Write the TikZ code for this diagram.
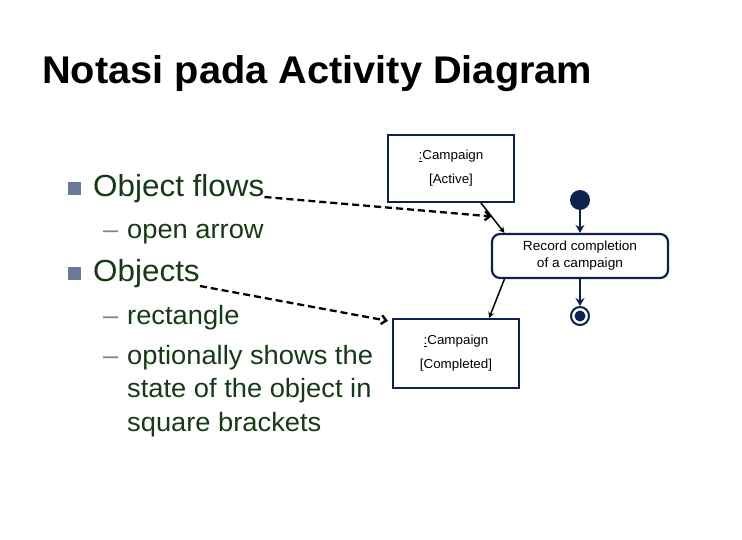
\documentclass[tikz,border=0pt]{standalone}
\usepackage{fontspec}
\setmainfont{Liberation Sans}[FakeStretch=1.03]
\usepackage{xcolor}
\usetikzlibrary{arrows.meta,calc}
\definecolor{navy}{HTML}{0C2150}
\definecolor{textgreen}{HTML}{163A16}
\definecolor{bulletgray}{HTML}{697A96}
\definecolor{dashgray}{HTML}{7A8494}

\begin{document}
\begin{tikzpicture}[
    x=1pt, y=-1pt,
    title/.style={anchor=base west, inner sep=0pt, font=\fontsize{38.6}{44}\bfseries\selectfont},
    point/.style={anchor=base west, inner sep=0pt, text=textgreen, font=\fontsize{30.5}{36}\selectfont},
    subpoint/.style={anchor=base west, inner sep=0pt, text=textgreen, font=\fontsize{26.5}{32}\selectfont},
    subdash/.style={anchor=base west, inner sep=0pt, text=dashgray, font=\fontsize{26.5}{32}\selectfont},
    bulletbox/.style={fill=bulletgray, minimum size=13.5pt, inner sep=0pt},
    objbox/.style={draw=navy, line width=2pt, minimum width=126pt, align=center,
        font=\fontsize{13}{24}\selectfont},
    actbox/.style={draw=navy, line width=2.2pt, rounded corners=8pt, minimum width=176pt,
        minimum height=44pt, align=center, font=\fontsize{13.3}{17}\selectfont},
    objflow/.style={dash pattern=on 7pt off 4pt, line width=2.3pt,
        -{Straight Barb[length=5pt,width=9pt]}},
    flowline/.style={line width=1.5pt, -{Stealth[length=6pt,width=6pt]}},
    ctrlflow/.style={draw=navy, line width=2.8pt, -{Stealth[length=8pt,width=9pt]}}
]
\useasboundingbox (0,0) rectangle (742,540);

\node (title) [title] at (42,84) {Notasi pada Activity Diagram};

\node (b1) [bulletbox] at (74.5,188.5) {};
\node (flows) [point] at (93,197) {Object flows};
\node (d1) [subdash] at (103,239) {–};
\node (open) [subpoint] at (127,239) {open arrow};
\node (b2) [bulletbox] at (74.5,273.5) {};
\node (objs) [point] at (93,282) {Objects};
\node (d2) [subdash] at (103,324) {–};
\node (rect) [subpoint] at (127,324) {rectangle};
\node (d3) [subdash] at (103,364) {–};
\node (opt1) [subpoint] at (127,364) {optionally shows the};
\node (opt2) [subpoint] at (127,397) {state of the object in};
\node (opt3) [subpoint] at (127,431) {square brackets};

\node (active) [objbox, minimum height=67pt] at (451,168.5) {\underline{:}Campaign\\{}[Active]};
\node (done) [objbox, minimum height=69pt] at (456,353.5) {\underline{:}Campaign\\{}[Completed]};
\node (act) [actbox] at (580,256) {Record completion\\of a campaign};
\node (start) [circle, fill=navy, minimum size=20pt, inner sep=0pt] at (580,200) {};
\node (end) [circle, draw=navy, line width=2pt, minimum size=18pt, inner sep=0pt] at (580,316) {};
\node (endin) [circle, fill=navy, minimum size=11pt, inner sep=0pt] at (end) {};

\draw[flowline] (active.-49) -- (act.163);
\draw[flowline] (act.-163) -- (done.47);
\draw[ctrlflow] (start) -- (act.north);
\draw[ctrlflow] (act.south) -- (end.north);

\coordinate (flowpt) at ($(active.-49)!0.45!(act.163)$);
\draw[objflow] (flows.base east) -- (flowpt);
\draw[objflow] ([yshift=-4pt]objs.base east) -- ([xshift=-4pt]done.153);
\end{tikzpicture}
\end{document}
